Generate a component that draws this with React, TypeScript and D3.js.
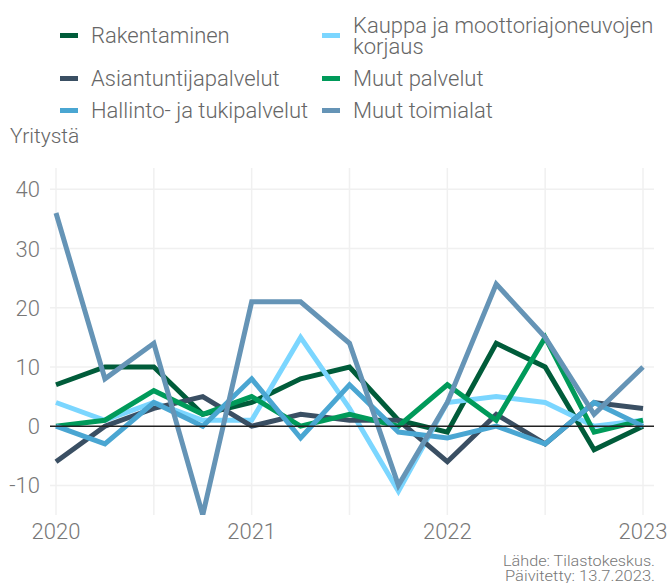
import React from "react";
import * as d3 from "d3";

// quarters 2020Q1 .. 2023Q1
const quarters = ["2020Q1", "2020Q2", "2020Q3", "2020Q4", "2021Q1", "2021Q2", "2021Q3", "2021Q4",
  "2022Q1", "2022Q2", "2022Q3", "2022Q4", "2023Q1"];

const rakentaminen = [7, 10, 10, 2, 4, 8, 10, 1, -1, 14, 10, -4, 0];
const kauppa = [4, 1, 4, 1, 1, 15, 3, -11, 4, 5, 4, 0, 1];
const asiantuntija = [-6, 0, 3, 5, 0, 2, 1, 1, -6, 2, -3, 4, 3];
const muutPalvelut = [0, 1, 6, 2, 5, 0, 2, 0, 7, 1, 15, -1, 1];
const hallinto = [0, -3, 4, 0, 8, -2, 7, -1, -2, 0, -3, 4, 0];
const muutToimialat = [36, 8, 14, -15, 21, 21, 14, -10, 4, 24, 15, 2, 10];

const yTicks = [-10, 0, 10, 20, 30, 40];
const yearLabels = ["2020", "2021", "2022", "2023"];

const series = [
  { name: ["Rakentaminen"], values: rakentaminen, color: "#005c3a" },
  { name: ["Kauppa ja moottoriajoneuvojen", "korjaus"], values: kauppa, color: "#7bd6ff" },
  { name: ["Asiantuntijapalvelut"], values: asiantuntija, color: "#3a4f63" },
  { name: ["Muut palvelut"], values: muutPalvelut, color: "#009a5a" },
  { name: ["Hallinto- ja tukipalvelut"], values: hallinto, color: "#4aa6d2" },
  { name: ["Muut toimialat"], values: muutToimialat, color: "#6594b6" },
];

const width = 669;
const height = 583;
const plot = { left: 50, right: 654, top: 168, bottom: 515 };
const font = "Roboto, 'Noto Sans', sans-serif";

export default function App() {
  const x = d3.scaleLinear().domain([0, quarters.length - 1]).range([56, 643]);
  const y = d3.scaleLinear().domain([-15, 43.6]).range([plot.bottom, plot.top]);

  const line = d3.line<number>()
    .x((d, i) => x(i))
    .y((d) => y(d));

  const halfYears = d3.range(0, quarters.length, 2);

  // legend: two columns, three rows
  const legendCols = [60, 322];
  const legendRows = [35.5, 78.5, 110.5];

  return (
    <svg width={width} height={height} style={{ position: "absolute", left: 0, top: 0 }}
      fontFamily={font}>
      <defs>
        <clipPath id="plotClip">
          <rect x={plot.left} y={plot.top} width={plot.right - plot.left} height={plot.bottom - plot.top} />
        </clipPath>
      </defs>

      {/* Legend */}
      {series.map((s, i) => {
        const cx = legendCols[i % 2];
        const cy = legendRows[Math.floor(i / 2)];
        const lineH = 21;
        const first = cy + 7.5 - ((s.name.length - 1) * lineH) / 2;
        return (
          <g key={s.name[0]}>
            <rect x={cx} y={cy - 2.5} width={18} height={5} fill={s.color} />
            <text x={cx + 31} fontSize={22} fontWeight={300} fill="#666">
              {s.name.map((t, j) => (
                <tspan key={t} x={cx + 31} y={first + j * lineH}>{t}</tspan>
              ))}
            </text>
          </g>
        );
      })}

      {/* Axis title */}
      <text x={10} y={143} fontSize={21} fontWeight={300} fill="#666">Yritystä</text>

      {/* Grid */}
      {halfYears.map((q) => (
        <line key={"v" + q} x1={x(q)} x2={x(q)} y1={plot.top} y2={plot.bottom}
          stroke="#f0f0f0" strokeWidth={1.5} />
      ))}
      {yTicks.filter((t) => t !== 0).map((t) => (
        <line key={"h" + t} x1={plot.left} x2={plot.right} y1={y(t)} y2={y(t)}
          stroke="#f0f0f0" strokeWidth={1.5} />
      ))}

      {/* Y tick labels */}
      {yTicks.map((t) => (
        <text key={"yl" + t} x={40} y={y(t) + 8} textAnchor="end" fontSize={22}
          fontWeight={300} fill="#777">{t}</text>
      ))}

      {/* X tick labels */}
      {yearLabels.map((lab, i) => (
        <text key={lab} x={x(i * 4)} y={539} textAnchor="middle" fontSize={22}
          fontWeight={300} fill="#777">{lab}</text>
      ))}

      {/* Series */}
      <g clipPath="url(#plotClip)">
        {series.map((s) => (
          <path key={s.name[0]} d={line(s.values) || ""} fill="none" stroke={s.color}
            strokeWidth={5} strokeLinejoin="miter" />
        ))}
      </g>

      {/* Zero line */}
      <line x1={plot.left} x2={plot.right} y1={y(0)} y2={y(0)} stroke="#222" strokeWidth={1.5} />

      {/* Credits */}
      <text x={655} y={565.5} textAnchor="end" fontSize={14.5} fontWeight={300} fill="#777"
        textLength={152} lengthAdjust="spacingAndGlyphs">Lähde: Tilastokeskus.</text>
      <text x={655} y={580.5} textAnchor="end" fontSize={14.5} fontWeight={300} fill="#777"
        textLength={150} lengthAdjust="spacingAndGlyphs">Päivitetty: 13.7.2023.</text>
    </svg>
  );
}
